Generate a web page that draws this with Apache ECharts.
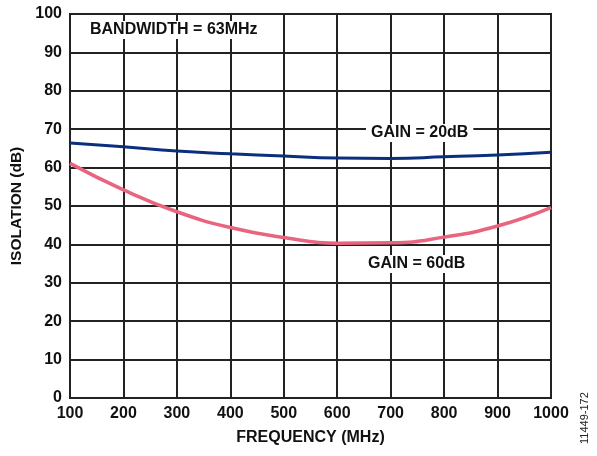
<!DOCTYPE html>
<html><head><meta charset="utf-8">
<script src="https://cdn.jsdelivr.net/npm/echarts@6/dist/echarts.min.js"></script>
<style>html,body{margin:0;padding:0;background:#fff}#c{width:597px;height:456px}</style>
</head><body><div id="c"></div>
<script>
var freq = [100, 200, 300, 400, 500, 600, 700, 800, 900, 1000];
var gain20 = [66.4, 65.4, 64.3, 63.6, 63.0, 62.5, 62.4, 62.8, 63.3, 64.0];
var gain60 = [61.1, 54.2, 48.5, 44.4, 41.8, 40.3, 40.4, 41.9, 44.8, 49.6];
var xTicks = [100, 200, 300, 400, 500, 600, 700, 800, 900, 1000];
var yTicks = [0, 10, 20, 30, 40, 50, 60, 70, 80, 90, 100];

function pairs(xs, ys){ return xs.map(function(x,i){ return [x, ys[i]]; }); }
var font = 'Liberation Sans, Arial, sans-serif';
var chart = echarts.init(document.getElementById('c'));
chart.setOption({
  animation: false,
  grid: {left: 70, right: 46, top: 14, bottom: 58, show: true, borderColor: '#111', borderWidth: 2},
  xAxis: {
    type: 'value', min: 100, max: 1000, interval: 100,
    name: 'FREQUENCY (MHz)', nameLocation: 'middle', nameGap: 32,
    nameTextStyle: {fontFamily: font, fontWeight: 'bold', fontSize: 16, color: '#111'},
    axisLine: {show: false}, axisTick: {show: false},
    axisLabel: {fontFamily: font, fontWeight: 'bold', fontSize: 16, color: '#111', margin: 8,
      formatter: function(v){ return xTicks.indexOf(v) >= 0 ? String(v) : ''; }},
    splitLine: {lineStyle: {color: '#222', width: 2}}
  },
  yAxis: {
    type: 'value', min: 0, max: 100, interval: 10,
    name: 'ISOLATION (dB)', nameLocation: 'middle', nameGap: 39,
    nameTextStyle: {fontFamily: font, fontWeight: 'bold', fontSize: 15.5, color: '#111'},
    axisLine: {show: false}, axisTick: {show: false},
    axisLabel: {fontFamily: font, fontWeight: 'bold', fontSize: 16, color: '#111', margin: 8,
      formatter: function(v){ return yTicks.indexOf(v) >= 0 ? String(v) : ''; }},
    splitLine: {lineStyle: {color: '#222', width: 2}}
  },
  series: [
    {type: 'line', data: pairs(freq, gain20), smooth: true, symbol: 'none',
     lineStyle: {color: '#0b2f7d', width: 3}, z: 3},
    {type: 'line', data: pairs(freq, gain60), smooth: true, symbol: 'none',
     lineStyle: {color: '#e9647f', width: 3.5}, z: 3}
  ],
  graphic: [
    {type: 'text', left: 85, top: 21, z: 10, style: {text: 'BANDWIDTH = 63MHz', font: 'bold 16px ' + font, fill: '#111', backgroundColor: '#fff', padding: [1, 5]}},
    {type: 'text', left: 366, top: 124, z: 10, style: {text: 'GAIN = 20dB', font: 'bold 16px ' + font, fill: '#111', backgroundColor: '#fff', padding: [1, 5]}},
    {type: 'text', left: 363, top: 255, z: 10, style: {text: 'GAIN = 60dB', font: 'bold 16px ' + font, fill: '#111', backgroundColor: '#fff', padding: [1, 5]}},
    {type: 'text', x: 579, y: 444, rotation: Math.PI / 2, z: 10, style: {text: '11449-172', font: '11px ' + font, fill: '#222'}}
  ]
});
</script></body></html>
